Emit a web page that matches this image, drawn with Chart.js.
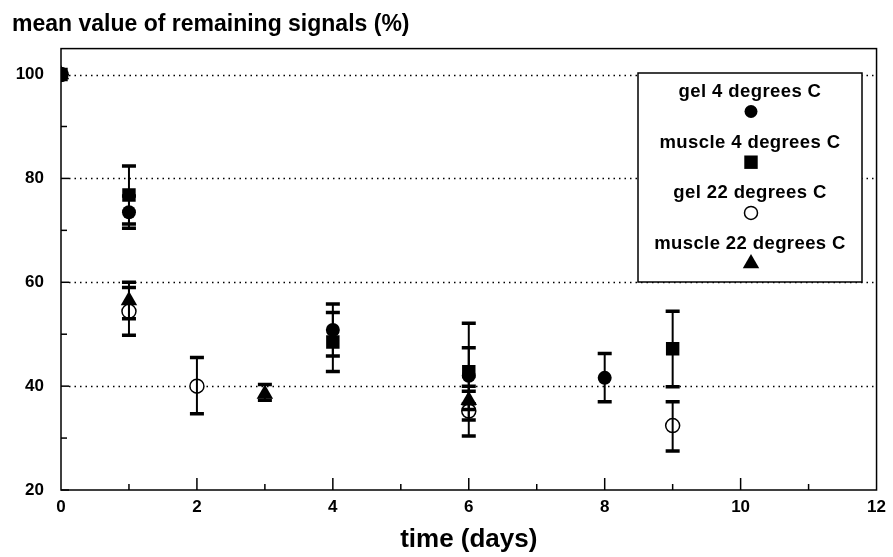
<!DOCTYPE html>
<html>
<head>
<meta charset="utf-8">
<script src="https://cdn.jsdelivr.net/npm/chart.js@4/dist/chart.umd.min.js"></script>
<style>
html,body{margin:0;padding:0;background:#fff;}
#wrap{width:893px;height:557px;position:relative;}
</style>
</head>
<body>
<div id="wrap"><canvas id="c" width="893" height="557"></canvas></div>
<script>
// ---- data ----
const seriesLabels = ['gel 4 degrees C', 'muscle 4 degrees C', 'gel 22 degrees C', 'muscle 22 degrees C'];

const gel4X = [0, 1, 4, 6, 8];
const gel4Y = [100, 73.5, 50.8, 42, 41.6];
const gel4Low = [100, 70.4, 45.8, 36.6, 37];
const gel4High = [100, 76.6, 55.8, 47.4, 46.3];

const muscle4X = [0, 1, 4, 6, 9];
const muscle4Y = [100, 76.8, 48.5, 42.8, 47.2];
const muscle4Low = [100, 71.2, 42.8, 33.5, 39.9];
const muscle4High = [100, 82.4, 54.2, 52.1, 54.4];

const gel22X = [0, 1, 2, 6, 9];
const gel22Y = [100, 54.4, 40, 35.2, 32.4];
const gel22Low = [100, 49.8, 34.7, 30.4, 27.5];
const gel22High = [100, 59, 45.5, 40, 37];

const muscle22X = [0, 1, 3, 6];
const muscle22Y = [100, 56.5, 38.5, 37.3];
const muscle22Low = [100, 53, 37.3, 35.5];
const muscle22High = [100, 60, 40.3, 39];

const xLabelValues = [0, 2, 4, 6, 8, 10, 12];
const yLabelValues = [20, 40, 60, 80, 100];
const yGridValues = [40, 60, 80, 100];

function pts(xs, ys, lo, hi) {
  return xs.map((x, i) => ({x: x, y: ys[i], lo: lo[i], hi: hi[i]}));
}

const FONT = "'Liberation Sans', Arial, Helvetica, sans-serif";

function drawShape(ctx, style, r, x, y) {
  if (style === 'circle') {
    ctx.arc(x, y, r, 0, Math.PI * 2);
  } else if (style === 'rect') {
    const s = Math.SQRT1_2 * r;
    ctx.rect(x - s, y - s, 2 * s, 2 * s);
  } else if (style === 'triangle') {
    let rad = 0;
    ctx.moveTo(x + Math.sin(rad) * r, y - Math.cos(rad) * r);
    rad += 2 * Math.PI / 3;
    ctx.lineTo(x + Math.sin(rad) * r, y - Math.cos(rad) * r);
    rad += 2 * Math.PI / 3;
    ctx.lineTo(x + Math.sin(rad) * r, y - Math.cos(rad) * r);
    ctx.closePath();
  }
}

const errorBars = {
  id: 'errorBars',
  afterDatasetsDraw(chart) {
    const ctx = chart.ctx, xs = chart.scales.x, ys = chart.scales.y;
    ctx.save();
    ctx.strokeStyle = '#000';
    chart.data.datasets.forEach(ds => {
      ds.data.forEach(p => {
        if (p.lo === p.hi) return;
        const px = xs.getPixelForValue(p.x);
        const yl = ys.getPixelForValue(p.lo), yh = ys.getPixelForValue(p.hi);
        ctx.lineWidth = 2;
        ctx.beginPath(); ctx.moveTo(px, yl); ctx.lineTo(px, yh); ctx.stroke();
        ctx.lineWidth = 3.5;
        ctx.beginPath();
        ctx.moveTo(px - 7, yl); ctx.lineTo(px + 7, yl);
        ctx.moveTo(px - 7, yh); ctx.lineTo(px + 7, yh);
        ctx.stroke();
      });
    });
    ctx.restore();
  }
};

const frame = {
  id: 'frame',
  beforeDatasetsDraw(chart) {
    const ctx = chart.ctx, a = chart.chartArea, xs = chart.scales.x, ys = chart.scales.y;
    ctx.save();
    ctx.strokeStyle = '#000';
    ctx.lineWidth = 1.5;
    ctx.setLineDash([1.5, 4]);
    yGridValues.forEach(v => {
      const y = Math.round(ys.getPixelForValue(v)) + 0.5;
      ctx.beginPath(); ctx.moveTo(a.left + 8, y); ctx.lineTo(a.right, y); ctx.stroke();
    });
    ctx.setLineDash([]);
    ctx.lineWidth = 1.5;
    ctx.strokeRect(a.left, a.top, a.right - a.left, a.bottom - a.top);
    for (let v = 20; v <= 100; v += 10) {
      const y = ys.getPixelForValue(v);
      const len = (v % 20 === 0) ? 8 : 6;
      ctx.beginPath(); ctx.moveTo(a.left, y); ctx.lineTo(a.left + len, y); ctx.stroke();
    }
    for (let v = 1; v < 12; v++) {
      const x = xs.getPixelForValue(v);
      const len = (v % 2 === 0) ? 12 : 6;
      ctx.beginPath(); ctx.moveTo(x, a.bottom); ctx.lineTo(x, a.bottom - len); ctx.stroke();
    }
    ctx.restore();
  },
  afterDraw(chart) {
    const ctx = chart.ctx;
    ctx.save();
    const L = 638, T = 73, R = 862, B = 282;
    ctx.fillStyle = '#fff';
    ctx.fillRect(L, T, R - L, B - T);
    ctx.strokeStyle = '#000';
    ctx.lineWidth = 1.5;
    ctx.strokeRect(L, T, R - L, B - T);
    const cx = 750;
    ctx.font = 'bold 18.5px ' + FONT;
    ctx.letterSpacing = '0.4px';
    ctx.textAlign = 'center';
    ctx.textBaseline = 'middle';
    chart.data.datasets.forEach((ds, i) => {
      const ty = 92 + i * 50.7;
      ctx.fillStyle = '#000';
      ctx.fillText(ds.label, cx, ty);
      ctx.fillStyle = ds.pointBackgroundColor;
      ctx.strokeStyle = '#000';
      ctx.lineWidth = ds.pointBorderWidth;
      ctx.beginPath();
      drawShape(ctx, ds.pointStyle, ds.legendRadius, cx + 1, ty + 19.5);
      ctx.fill();
      if (ds.pointBorderWidth) ctx.stroke();
    });
    ctx.restore();
  }
};

const datasets = [
  {label: seriesLabels[0], data: pts(gel4X, gel4Y, gel4Low, gel4High), pointStyle: 'circle',
   pointRadius: 7, legendRadius: 6.5, pointBackgroundColor: '#000', pointBorderColor: '#000', pointBorderWidth: 0, order: 0},
  {label: seriesLabels[1], data: pts(muscle4X, muscle4Y, muscle4Low, muscle4High), pointStyle: 'rect',
   pointRadius: 9.5, legendRadius: 9.5, pointBackgroundColor: '#000', pointBorderColor: '#000', pointBorderWidth: 0, order: 1},
  {label: seriesLabels[2], data: pts(gel22X, gel22Y, gel22Low, gel22High), pointStyle: 'circle',
   pointRadius: 7, legendRadius: 6.5, pointBackgroundColor: '#fff', pointBorderColor: '#000', pointBorderWidth: 1.5, order: 2},
  {label: seriesLabels[3], data: pts(muscle22X, muscle22Y, muscle22Low, muscle22High), pointStyle: 'triangle',
   pointRadius: 9.5, legendRadius: 9.5, pointBackgroundColor: '#000', pointBorderColor: '#000', pointBorderWidth: 0, order: 3}
];

new Chart(document.getElementById('c'), {
  type: 'scatter',
  data: {datasets: datasets},
  options: {
    responsive: false,
    animation: false,
    events: [],
    layout: {padding: {left: 12, right: 12, top: 0, bottom: 0}},
    plugins: {
      legend: {display: false},
      tooltip: {enabled: false},
      title: {
        display: true,
        text: 'mean value of remaining signals (%)',
        align: 'start',
        color: '#000',
        font: {family: FONT, size: 23, weight: 'bold'},
        padding: {top: 11, bottom: 10}
      }
    },
    scales: {
      x: {
        type: 'linear', min: 0, max: 12,
        afterFit(s) { s.height = 67; },
        border: {display: false},
        grid: {display: false, drawTicks: false},
        ticks: {
          stepSize: 1, padding: 7, color: '#000', maxRotation: 0, autoSkip: false,
          font: {family: FONT, size: 17, weight: 'bold'},
          callback: v => xLabelValues.includes(v) ? String(v) : ''
        },
        title: {
          display: true, text: 'time (days)', color: '#000',
          font: {family: FONT, size: 26, weight: 'bold'},
          padding: {top: 0, bottom: 2}
        }
      },
      y: {
        type: 'linear', min: 20, max: 105,
        afterFit(s) { s.width = 49; },
        border: {display: false},
        grid: {display: false, drawTicks: false},
        ticks: {
          stepSize: 10, padding: 17, color: '#000', includeBounds: false, autoSkip: false,
          font: {family: FONT, size: 17, weight: 'bold'},
          callback: v => yLabelValues.includes(v) ? String(v) : ''
        }
      }
    }
  },
  plugins: [frame, errorBars]
});
</script>
</body>
</html>
